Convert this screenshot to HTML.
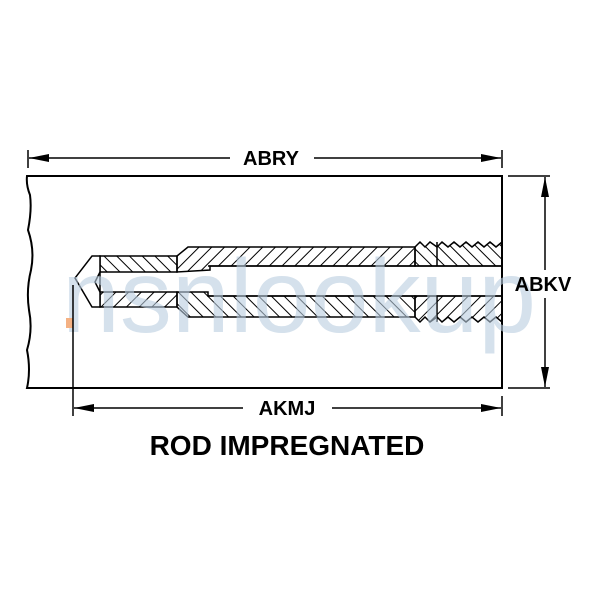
<!DOCTYPE html>
<html><head><meta charset="utf-8"><style>
html,body{margin:0;padding:0;background:#fff;}
svg{display:block;}
text{font-family:"Liberation Sans",Arial,sans-serif;font-weight:bold;}
</style></head><body>
<svg width="600" height="600" viewBox="0 0 600 600" xmlns="http://www.w3.org/2000/svg">
<defs>
<pattern id="hf" width="9" height="9" patternUnits="userSpaceOnUse" patternTransform="rotate(45)">
<line x1="0" y1="0" x2="0" y2="9" stroke="#000" stroke-width="2"/></pattern>
<pattern id="hb" width="9" height="9" patternUnits="userSpaceOnUse" patternTransform="rotate(-45)">
<line x1="0" y1="0" x2="0" y2="9" stroke="#000" stroke-width="2"/></pattern>
<marker id="ar" viewBox="0 0 20 10" refX="20" refY="5" markerWidth="20" markerHeight="10" markerUnits="userSpaceOnUse" orient="auto"><path d="M0,1 L20,5 L0,9 Z" fill="#000"/></marker>
</defs>
<path d="M27,176 L502,176 L502,388 L27,388 Q31,370 27,350 Q33,330 29,310 Q26,290 31,270 Q35,250 28,230 Q32,210 30,195 Q26,185 27,176 Z" fill="none" stroke="#000" stroke-width="2"/>
<path d="M100,256 L177,256 L177,272 L100,272 Z" fill="url(#hb)" stroke="#000" stroke-width="1.5"/>
<path d="M177,256 L188,247 L415,247 L415,266 L210,266 L210,270 L177,272 Z" fill="url(#hf)" stroke="#000" stroke-width="1.5"/>
<path d="M415,247 L420,242 L425,247 L430,242 L437,247 L442,242 L448,247 L454,242 L460,247 L466,242 L472,247 L478,242 L484,247 L490,242 L496,247 L502,242 L502,266 L415,266 Z" fill="url(#hb)" stroke="#000" stroke-width="1.5"/>
<line x1="437" y1="242" x2="437" y2="266" stroke="#000" stroke-width="1.5"/>
<path d="M100,292 L177,292 L177,307 L100,307 Z" fill="url(#hf)" stroke="#000" stroke-width="1.5"/>
<path d="M177,292 L208,292 L208,296 L415,296 L415,317 L188,317 L177,307 Z" fill="url(#hb)" stroke="#000" stroke-width="1.5"/>
<path d="M415,296 L502,296 L502,322 L496,317 L490,322 L484,317 L478,322 L472,317 L466,322 L460,317 L454,322 L448,317 L442,322 L437,317 L430,322 L425,317 L420,322 L415,317 Z" fill="url(#hf)" stroke="#000" stroke-width="1.5"/>
<line x1="437" y1="296" x2="437" y2="322" stroke="#000" stroke-width="1.5"/>
<path d="M100,256 L92,256 L75,278 L92,307 L100,307 Z" fill="#fff" stroke="#000" stroke-width="1.5"/>
<path d="M100,272 L95,282 L100,292" fill="none" stroke="#000" stroke-width="1.5"/>
<line x1="208" y1="266" x2="502" y2="266" stroke="#000" stroke-width="1.5"/>
<line x1="208" y1="296" x2="502" y2="296" stroke="#000" stroke-width="1.5"/>
<text x="62" y="332" font-size="104" fill="#b9cde0" fill-opacity="0.6" style="font-weight:normal">nsnlookup</text>
<rect x="66" y="318" width="7" height="10" fill="#f4b183"/>
<line x1="28" y1="150" x2="28" y2="168" stroke="#000" stroke-width="1.5"/>
<line x1="502" y1="150" x2="502" y2="168" stroke="#000" stroke-width="1.5"/>
<line x1="230" y1="158" x2="29" y2="158" stroke="#000" stroke-width="1.5" marker-end="url(#ar)"/>
<line x1="314" y1="158" x2="501" y2="158" stroke="#000" stroke-width="1.5" marker-end="url(#ar)"/>
<text x="271" y="165" font-size="20" text-anchor="middle">ABRY</text>
<line x1="508" y1="176" x2="550" y2="176" stroke="#000" stroke-width="1.5"/>
<line x1="508" y1="388" x2="550" y2="388" stroke="#000" stroke-width="1.5"/>
<line x1="545" y1="270" x2="545" y2="177" stroke="#000" stroke-width="1.5" marker-end="url(#ar)"/>
<line x1="545" y1="298" x2="545" y2="387" stroke="#000" stroke-width="1.5" marker-end="url(#ar)"/>
<text x="543" y="291" font-size="20" text-anchor="middle">ABKV</text>
<line x1="73" y1="285" x2="73" y2="416" stroke="#000" stroke-width="1.5"/>
<line x1="502" y1="396" x2="502" y2="416" stroke="#000" stroke-width="1.5"/>
<line x1="243" y1="408" x2="74" y2="408" stroke="#000" stroke-width="1.5" marker-end="url(#ar)"/>
<line x1="332" y1="408" x2="501" y2="408" stroke="#000" stroke-width="1.5" marker-end="url(#ar)"/>
<text x="287" y="415" font-size="20" text-anchor="middle">AKMJ</text>
<text x="287" y="455" font-size="28" text-anchor="middle">ROD IMPREGNATED</text>
</svg>
</body></html>
